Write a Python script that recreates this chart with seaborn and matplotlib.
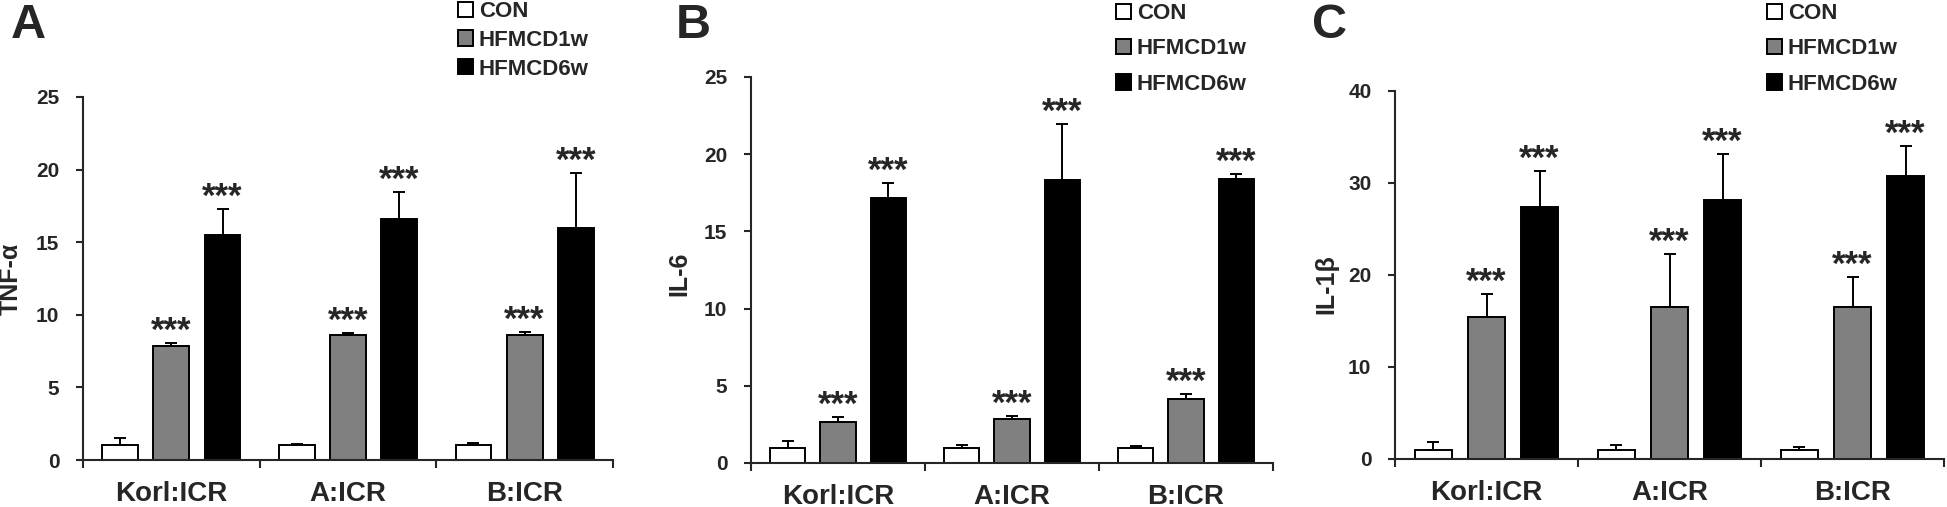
import matplotlib
matplotlib.use("Agg")
import matplotlib.pyplot as plt
import pandas as pd
import seaborn as sns

groups = ["Korl:ICR", "A:ICR", "B:ICR"]
conditions = ["CON", "HFMCD1w", "HFMCD6w"]

tnf_con = [1.0, 1.0, 1.0]
tnf_con_err = [0.5, 0.12, 0.15]
tnf_1w = [7.88, 8.62, 8.62]
tnf_1w_err = [0.18, 0.16, 0.18]
tnf_6w = [15.47, 16.6, 15.98]
tnf_6w_err = [1.8, 1.86, 3.82]

il6_con = [1.0, 1.0, 1.0]
il6_con_err = [0.45, 0.18, 0.12]
il6_1w = [2.66, 2.87, 4.15]
il6_1w_err = [0.3, 0.17, 0.3]
il6_6w = [17.14, 18.35, 18.42]
il6_6w_err = [0.97, 3.6, 0.32]

il1b_con = [1.0, 1.0, 1.0]
il1b_con_err = [0.8, 0.55, 0.33]
il1b_1w = [15.48, 16.49, 16.49]
il1b_1w_err = [2.46, 5.75, 3.26]
il1b_6w = [27.34, 28.1, 30.81]
il1b_6w_err = [3.98, 5.1, 3.18]

stars = ["", "***", "***"]

# pixel layout: rect = [left, top, width, height]
panels = [
    dict(letter="A", ylabel="TNF-α", ymax=25, ystep=5,
         means=[tnf_con, tnf_1w, tnf_6w], errs=[tnf_con_err, tnf_1w_err, tnf_6w_err],
         rect=[83, 97, 530, 363], letter_xy=(11, 38), ylabel_xy=(11, 279),
         leg_xy=(458, 1), leg_sp=0.35),
    dict(letter="B", ylabel="IL-6", ymax=25, ystep=5,
         means=[il6_con, il6_1w, il6_6w], errs=[il6_con_err, il6_1w_err, il6_6w_err],
         rect=[751, 77, 522, 386], letter_xy=(676, 38), ylabel_xy=(679, 274),
         leg_xy=(1116, 3), leg_sp=0.65),
    dict(letter="C", ylabel="IL-1β", ymax=40, ystep=10,
         means=[il1b_con, il1b_1w, il1b_6w], errs=[il1b_con_err, il1b_1w_err, il1b_6w_err],
         rect=[1395, 91, 549, 368], letter_xy=(1312, 38), ylabel_xy=(1326, 284),
         leg_xy=(1767, 3), leg_sp=0.65),
]

W, H = 1947, 507
sns.set_style("ticks")
plt.rcParams["font.family"] = ["Liberation Sans", "DejaVu Sans"]
plt.rcParams["font.weight"] = "bold"

fig = plt.figure(figsize=(W / 100, H / 100), dpi=100)
palette = {"CON": "white", "HFMCD1w": "#808080", "HFMCD6w": "black"}

for p in panels:
    x0, y0, w, h = p["rect"]
    ax = fig.add_axes([x0 / W, 1 - (y0 + h) / H, w / W, h / H])

    rows = []
    for cond, vals in zip(conditions, p["means"]):
        for g, v in zip(groups, vals):
            rows.append({"group": g, "condition": cond, "value": v})
    df = pd.DataFrame(rows)

    sns.barplot(data=df, x="group", y="value", hue="condition", order=groups,
                hue_order=conditions, palette=palette, edgecolor="black",
                linewidth=1.4, width=0.87, gap=0.3, errorbar=None, ax=ax)

    for container, errs, st in zip(ax.containers, p["errs"], stars):
        for bar, e in zip(container, errs):
            bx = bar.get_x() + bar.get_width() / 2
            bh = bar.get_height()
            ax.errorbar(bx, bh, yerr=[[0], [e]], fmt="none", ecolor="black",
                        elinewidth=1.4, capsize=4, capthick=1.4, zorder=3)
            if st:
                ax.annotate(st, (bx, bh + e), xytext=(0, 1.5), textcoords="offset points",
                            ha="center", va="baseline", fontsize=25, fontweight="bold")

    ax.set_ylim(0, p["ymax"])
    ax.set_yticks(range(0, p["ymax"] + 1, p["ystep"]))
    ax.set_xlim(-0.5, 2.5)
    ax.set_xticks([-0.5, 0.5, 1.5, 2.5], minor=True)
    ax.tick_params(axis="x", which="major", length=0, pad=15, labelsize=20)
    ax.tick_params(axis="x", which="minor", length=6, width=1.5, direction="out")
    ax.tick_params(axis="y", length=5, width=1.5, pad=12, labelsize=15)
    for lab in ax.get_xticklabels() + ax.get_yticklabels():
        lab.set_fontweight("bold")
    ax.set_xlabel("")
    ax.set_ylabel("")
    sns.despine(ax=ax)
    for s in ("left", "bottom"):
        ax.spines[s].set_linewidth(1.5)

    fig.text(p["ylabel_xy"][0] / W, 1 - p["ylabel_xy"][1] / H, p["ylabel"], rotation=90,
             ha="center", va="center", fontsize=18, fontweight="bold")
    fig.text(p["letter_xy"][0] / W, 1 - p["letter_xy"][1] / H, p["letter"],
             ha="left", va="baseline", fontsize=35, fontweight="bold")

    handles, labels = ax.get_legend_handles_labels()
    ax.legend(handles, labels, loc="upper left",
              bbox_to_anchor=(p["leg_xy"][0] / W, 1 - p["leg_xy"][1] / H),
              bbox_transform=fig.transFigure, frameon=False,
              handlelength=0.68, handleheight=0.68, handletextpad=0.25,
              labelspacing=p["leg_sp"], borderpad=0, borderaxespad=0,
              prop={"weight": "bold", "size": 16})

fig.savefig("out.png", dpi=100)
